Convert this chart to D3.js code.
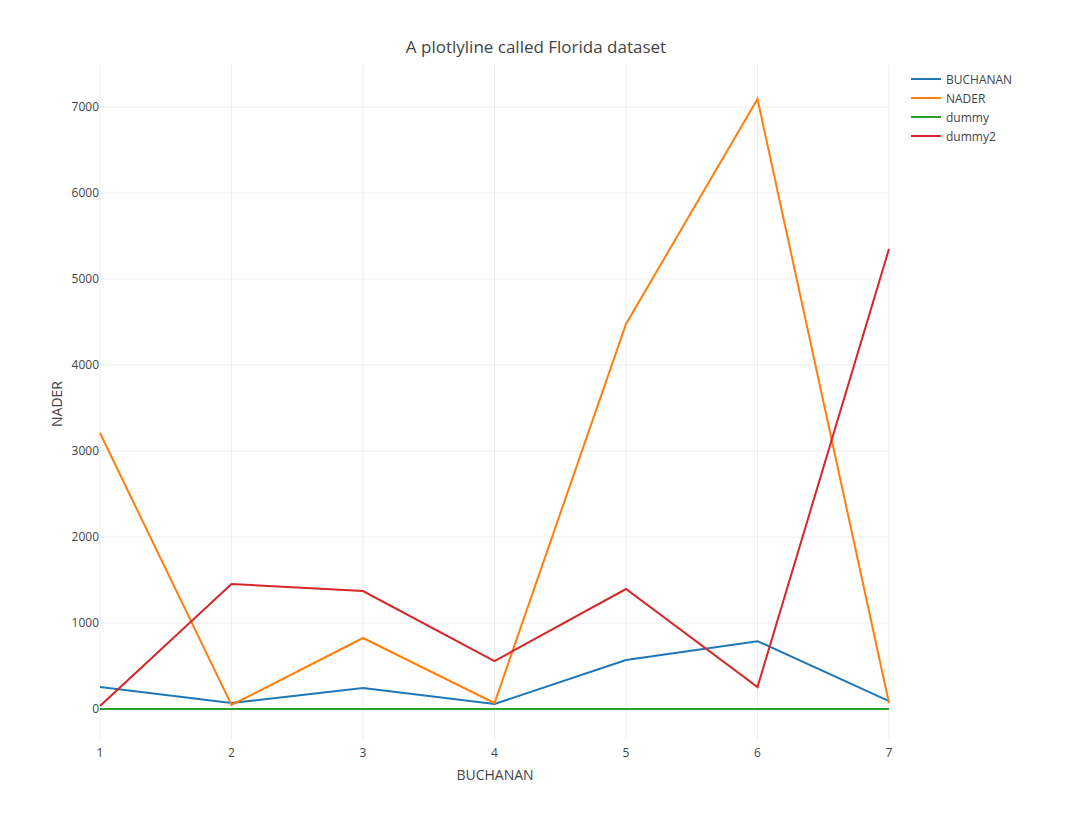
<!DOCTYPE html>
<html><head><meta charset="utf-8">
<script src="https://cdn.jsdelivr.net/npm/d3@7"></script>
<style>body{margin:0;background:#fff;font-family:"Open Sans",sans-serif}</style>
</head><body><div id="chart"></div>
<script>
const xs = [1, 2, 3, 4, 5, 6, 7];
const buchanan = [256, 70, 244, 58, 570, 789, 93];
const nader = [3209, 47, 826, 70, 4477, 7093, 70];
const dummy = [0, 0, 0, 0, 0, 0, 0];
const dummy2 = [35, 1453, 1372, 558, 1395, 256, 5349];
const names = ["BUCHANAN", "NADER", "dummy", "dummy2"];
const colors = ["#1f77b4", "#ff7f0e", "#2ca02c", "#d62728"];
const series = [buchanan, nader, dummy, dummy2];
const yTicks = [0, 1000, 2000, 3000, 4000, 5000, 6000, 7000];

const W = 1072, H = 824, L = 100, R = 889, T = 65, B = 740;
const svg = d3.select("#chart").append("svg").attr("width", W).attr("height", H);
const x = d3.scaleLinear().domain([1, 7]).range([L, R]);
const y = d3.scaleLinear().domain([-360, 7488]).range([B, T]);

// gridlines
svg.append("g").selectAll("line").data(xs).join("line")
  .attr("x1", d => x(d)).attr("x2", d => x(d)).attr("y1", T).attr("y2", B)
  .attr("stroke", "#eee");
svg.append("g").selectAll("line").data(yTicks.slice(1)).join("line")
  .attr("x1", L).attr("x2", R).attr("y1", d => y(d)).attr("y2", d => y(d))
  .attr("stroke", "#eee");

svg.append("g").selectAll("text").data(yTicks).join("text")
  .attr("x", L - 1).attr("y", d => y(d) + 4).attr("text-anchor", "end")
  .attr("font-size", 12).attr("fill", "#444").text(d => d);
svg.append("g").selectAll("text").data(xs).join("text")
  .attr("x", d => x(d)).attr("y", 757).attr("text-anchor", "middle")
  .attr("font-size", 12).attr("fill", "#444").text(d => d);

const line = d3.line().x((d, i) => x(xs[i])).y(d => y(d));
series.forEach((s, i) => {
  svg.append("path").datum(s).attr("d", line).attr("fill", "none")
    .attr("stroke", colors[i]).attr("stroke-width", 2);
});

svg.append("text").attr("x", 536).attr("y", 53).attr("text-anchor", "middle")
  .attr("font-size", 17).attr("fill", "#444").text("A plotlyline called Florida dataset");
svg.append("text").attr("x", 495).attr("y", 780).attr("text-anchor", "middle")
  .attr("font-size", 14).attr("fill", "#444").text("BUCHANAN");
svg.append("text").attr("transform", "translate(62,404) rotate(-90)").attr("text-anchor", "middle")
  .attr("font-size", 14).attr("fill", "#444").text("NADER");

const lg = svg.append("g").selectAll("g").data(names).join("g")
  .attr("transform", (d, i) => `translate(911,${79 + i * 19})`);
lg.append("line").attr("x1", 0).attr("x2", 30).attr("stroke", (d, i) => colors[i]).attr("stroke-width", 2);
lg.append("text").attr("x", 35).attr("y", 5).attr("font-size", 12).attr("fill", "#444").text(d => d);
</script></body></html>
